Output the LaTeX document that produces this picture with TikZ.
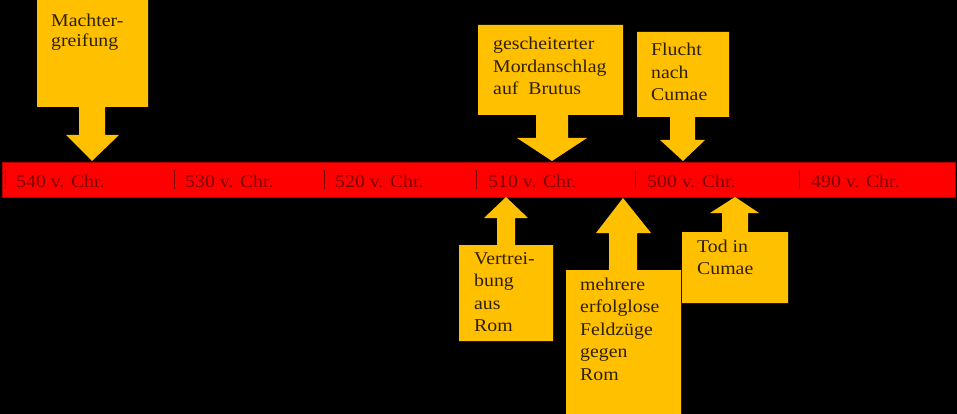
\documentclass[tikz,border=0pt]{standalone}
\usepackage{fontspec}
\setmainfont{Liberation Serif}[FakeStretch=1.1]
\definecolor{gold}{HTML}{FFC000}
\definecolor{barred}{HTML}{FF0000}
\definecolor{barline}{HTML}{B00000}
\definecolor{labelred}{HTML}{7A0000}
\definecolor{boxtext}{HTML}{2E2000}
\tikzset{
  callout/.style={fill=gold},
  boxtxt/.style={anchor=base west, inner sep=0pt, text=boxtext, font=\fontsize{18}{22.5}\selectfont},
  yearlbl/.style={anchor=base west, inner sep=0pt, text=labelred, font=\fontsize{18}{22.5}\selectfont},
  tickmark/.style={draw=labelred, line width=0.8pt}
}
\newcommand{\ml}[1]{\begin{tabular}[t]{@{}l@{}}#1\end{tabular}}
\begin{document}
\begin{tikzpicture}[x=1pt,y=-1pt]
\fill[black] (0,0) rectangle (957,414);
\useasboundingbox (0,0) rectangle (957,414);
% timeline bar
\fill[barred, draw=barline, line width=0.8pt] (2,162) rectangle (955,197);
% ticks
\foreach \x/\n in {5/t1,174/t2,324/t3,476/t4,635/t5,799/t6}{
  \coordinate (\n a) at (\x,170);
  \coordinate (\n b) at (\x,189);
  \draw[tickmark] (\n a) -- (\n b);
}
\node[yearlbl] (y540) at (16,187) {540 v. Chr.};
\node[yearlbl] (y530) at (185,187) {530 v. Chr.};
\node[yearlbl] (y520) at (335,187) {520 v. Chr.};
\node[yearlbl] (y510) at (488,187) {510 v. Chr.};
\node[yearlbl] (y500) at (647,187) {500 v. Chr.};
\node[yearlbl] (y490) at (811,187) {490 v. Chr.};
% callouts (down)
\fill[callout] (37,-2) -- (148,-2) -- (148,107) -- (105,107) -- (105,135) -- (119,135) -- (92,161) -- (66,135) -- (79,135) -- (79,107) -- (37,107) -- cycle;
\fill[callout] (478,25) -- (623,25) -- (623,115) -- (568,115) -- (568,138) -- (587,138) -- (552,161) -- (517,138) -- (536,138) -- (536,115) -- (478,115) -- cycle;
\fill[callout] (637,32) -- (729,32) -- (729,117) -- (695,117) -- (695,140) -- (705,140) -- (683,161) -- (660,140) -- (670,140) -- (670,117) -- (637,117) -- cycle;
% callouts (up)
\fill[callout] (459,341) -- (553,341) -- (553,245) -- (515,245) -- (515,218) -- (528,218) -- (506,197) -- (484,218) -- (497,218) -- (497,245) -- (459,245) -- cycle;
\fill[callout] (566,416) -- (681,416) -- (681,270) -- (637,270) -- (637,233) -- (651,233) -- (623,198) -- (596,233) -- (609,233) -- (609,270) -- (566,270) -- cycle;
\fill[callout] (682,303) -- (788,303) -- (788,232) -- (748,232) -- (748,213) -- (759,213) -- (735,197) -- (710,213) -- (722,213) -- (722,232) -- (682,232) -- cycle;
% texts
\node[boxtxt] (machter) at (51,27) {\ml{Machter-\\[-2.5pt]greifung}};
\node[boxtxt] (mord) at (493,50) {\ml{gescheiterter\\Mordanschlag\\auf\ \ Brutus}};
\node[boxtxt] (flucht) at (651,56) {\ml{Flucht\\nach\\Cumae}};
\node[boxtxt] (vertr) at (474,264) {\ml{Vertrei-\\bung\\aus\\Rom}};
\node[boxtxt] (feldz) at (580,290) {\ml{mehrere\\erfolglose\\Feldzüge\\gegen\\Rom}};
\node[boxtxt] (tod) at (697,252) {\ml{Tod in\\Cumae}};
\end{tikzpicture}
\end{document}
